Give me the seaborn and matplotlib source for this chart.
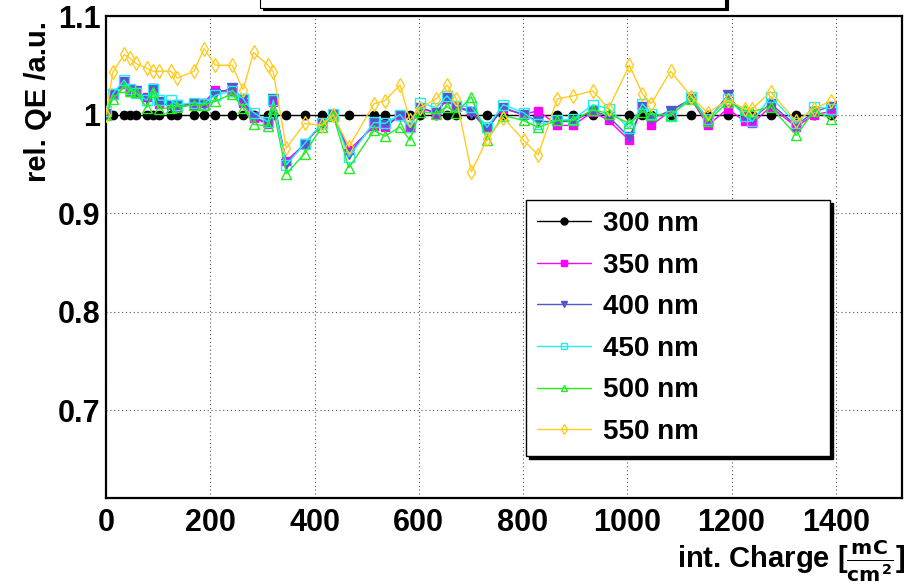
import matplotlib
matplotlib.use("Agg")
import matplotlib.pyplot as plt
from matplotlib.patches import Rectangle
from matplotlib.ticker import FixedLocator, FixedFormatter, MultipleLocator
import seaborn as sns
import pandas as pd

# integrated charge in mC/cm^2
charge = [0, 13, 35, 46, 57, 78, 90, 101, 124, 137, 169, 188, 210, 242, 263, 283,
          311, 321, 346, 381, 414, 436, 466, 514, 535, 564, 583, 602, 634, 654,
          672, 701, 731, 762, 801, 829, 866, 896, 934, 964, 1004, 1029, 1046,
          1083, 1123, 1154, 1193, 1225, 1240, 1275, 1324, 1359, 1390]

qe_300 = [1.0] * len(charge)

qe_350 = [1.002, 1.020, 1.031, 1.023, 1.023, 1.018, 1.027, 1.011, 1.0095, 1.008,
          1.010, 1.012, 1.025, 1.023, 1.012, 0.997, 0.990, 1.013, 0.953, 0.970,
          0.990, 1.000, 0.964, 0.988, 0.987, 0.999, 0.986, 1.007, 1.001, 1.016,
          1.008, 1.004, 0.986, 1.006, 1.000, 1.004, 0.989, 0.989, 1.003, 0.994,
          0.974, 1.008, 0.989, 1.004, 1.0155, 0.989, 1.006, 0.993, 0.991, 1.008,
          0.9875, 1.000, 1.003]

qe_400 = [1.000, 1.021, 1.033, 1.025, 1.024, 1.016, 1.026, 1.013, 1.009, 1.0095,
          1.011, 1.011, 1.021, 1.027, 1.0155, 0.998, 0.991, 1.016, 0.950, 0.9706,
          0.990, 1.000, 0.960, 0.991, 0.989, 0.9986, 0.987, 1.007, 1.002, 1.017,
          1.008, 1.002, 0.985, 1.007, 1.000, 0.993, 0.993, 0.993, 1.004, 0.998,
          0.977, 1.008, 0.996, 1.004, 1.016, 0.994, 1.0196, 0.999, 0.996, 1.011,
          0.989, 1.003, 1.008]

qe_450 = [1.004, 1.021, 1.035, 1.026, 1.022, 1.0145, 1.026, 1.0145, 1.0145, 1.010,
          1.012, 1.011, 1.0196, 1.024, 1.016, 1.002, 0.9925, 1.0145, 0.949, 0.9706,
          0.991, 1.001, 0.957, 0.992, 0.991, 1.000, 0.987, 1.012, 1.007, 1.019,
          1.009, 1.008, 0.987, 1.010, 1.002, 0.990, 0.994, 0.995, 1.010, 1.006,
          0.986, 1.011, 1.001, 0.9986, 1.018, 0.996, 1.016, 0.999, 0.993, 1.018,
          0.991, 1.008, 1.006]

qe_500 = [1.000, 1.016, 1.028, 1.024, 1.023, 1.007, 1.023, 1.006, 1.007, 1.008,
          1.0095, 1.010, 1.0135, 1.021, 1.007, 0.990, 0.9885, 1.006, 0.940, 0.9605,
          0.9875, 0.9986, 0.946, 0.984, 0.978, 0.9875, 0.974, 1.003, 1.001, 1.008,
          1.002, 1.018, 0.974, 0.999, 0.994, 0.987, 0.994, 0.994, 1.005, 1.001,
          0.991, 1.003, 1.000, 1.000, 1.0155, 0.993, 1.013, 1.0044, 1.003, 1.008,
          0.979, 1.004, 0.996]

qe_550 = [1.000, 1.043, 1.061, 1.057, 1.052, 1.047, 1.044, 1.044, 1.044, 1.037,
          1.044, 1.067, 1.050, 1.050, 1.025, 1.063, 1.050, 1.043, 0.966, 0.991,
          0.989, 1.000, 0.967, 1.011, 1.014, 1.030, 0.994, 1.007, 1.016, 1.030,
          1.016, 0.942, 0.975, 0.997, 0.974, 0.959, 1.016, 1.019, 1.024, 1.006,
          1.050, 1.021, 1.011, 1.044, 1.018, 1.002, 1.0145, 1.006, 1.006, 1.023,
          0.993, 1.006, 1.0135]

labels = ["300 nm", "350 nm", "400 nm", "450 nm", "500 nm", "550 nm"]
y_ticks = [0.7, 0.8, 0.9, 1.0, 1.1]
y_ticklabels = ["0.7", "0.8", "0.9", "1", "1.1"]
x_ticks = [0, 200, 400, 600, 800, 1000, 1200, 1400]
x_ticklabels = ["0", "200", "400", "600", "800", "1000", "1200", "1400"]

sns.set_theme(style="white")
plt.rcParams["font.family"] = ["Liberation Sans", "DejaVu Sans"]
plt.rcParams["text.color"] = "black"
plt.rcParams["axes.labelcolor"] = "black"
plt.rcParams["xtick.color"] = "black"
plt.rcParams["ytick.color"] = "black"
plt.rcParams["mathtext.fontset"] = "custom"
plt.rcParams["mathtext.rm"] = "Liberation Sans Narrow:bold"
plt.rcParams["mathtext.it"] = "Liberation Sans Narrow:bold"
plt.rcParams["mathtext.bf"] = "Liberation Sans Narrow:bold"

W, H = 916, 586
fig = plt.figure(figsize=(W / 100, H / 100), dpi=100)
ax = fig.add_axes([106 / W, 1 - 498 / H, 796 / W, 482 / H])

series = [qe_300, qe_350, qe_400, qe_450, qe_500, qe_550]
styles = [
    dict(color="#000000", marker="o", ms=6.0, mfc="#000000", mec="#000000"),
    dict(color="#ff00ff", marker="s", ms=6.0, mfc="#ff00ff", mec="#ff00ff"),
    dict(color="#5555cc", marker="v", ms=6.5, mfc="#5555cc", mec="#5555cc"),
    dict(color="#22eeee", marker="s", ms=7.0, mfc="none", mec="#22eeee"),
    dict(color="#22ee22", marker="^", ms=7.5, mfc="none", mec="#22ee22"),
    dict(color="#ffcc22", marker="d", ms=7.5, mfc="none", mec="#ffcc22"),
]

for i, (vals, lab, st) in enumerate(zip(series, labels, styles)):
    df = pd.DataFrame({"charge": charge, "qe": vals})
    sns.lineplot(data=df, x="charge", y="qe", ax=ax, estimator=None, sort=True,
                 label=lab, linewidth=1.0, mew=1.0, zorder=3 + i, **st)

ax.set_xlim(0, 1527)
ax.set_ylim(0.611, 1.1)

ax.xaxis.set_major_locator(FixedLocator(x_ticks))
ax.xaxis.set_major_formatter(FixedFormatter(x_ticklabels))
ax.xaxis.set_minor_locator(MultipleLocator(50))
ax.yaxis.set_major_locator(FixedLocator(y_ticks))
ax.yaxis.set_major_formatter(FixedFormatter(y_ticklabels))
ax.yaxis.set_minor_locator(MultipleLocator(0.02))

ax.tick_params(axis="both", which="both", direction="in", top=False, right=False,
               color="black", width=1.0)
ax.tick_params(axis="x", which="major", length=12, pad=7)
ax.tick_params(axis="x", which="minor", length=6)
ax.tick_params(axis="y", which="major", length=12, pad=4)
ax.tick_params(axis="y", which="minor", length=9)

for t in ax.get_xticklabels():
    t.set_fontfamily(["Liberation Sans Narrow", "Liberation Sans"])
    t.set_fontweight("bold")
    t.set_fontsize(22)
for t in ax.get_yticklabels():
    t.set_fontweight("bold")
    t.set_fontsize(22)

ax.grid(True, which="major", color="#555555", linestyle=(0, (1, 2.5)), linewidth=0.8)
for s in ax.spines.values():
    s.set_color("black")
    s.set_linewidth(1.6)

ax.set_ylabel("rel. QE /a.u.", fontsize=21, fontweight="bold", loc="top")
ax.yaxis.set_label_coords(-0.068, 0.99)
ax.set_xlabel(r"int. Charge [$\frac{mC}{cm^{2}}$]", fontsize=21, fontweight="bold",
              fontfamily=["Liberation Sans Narrow", "Liberation Sans"], loc="right")
ax.xaxis.set_label_coords(1.004, -0.131)
ax.xaxis.label.set_va("center")

leg = ax.legend(loc="upper left", bbox_to_anchor=(526 / W, 1 - 200 / H, 304 / W, 0.0),
                bbox_transform=fig.transFigure, mode="expand", borderaxespad=0,
                frameon=True, fancybox=False, shadow={"color": "black", "alpha": 1.0},
                numpoints=1, handlelength=1.95, handletextpad=0.43, borderpad=0.4,
                labelspacing=0.56, prop={"weight": "bold", "size": 20})
leg.get_frame().set_edgecolor("black")
leg.get_frame().set_linewidth(1.0)
leg.set_zorder(20)
for h in leg.legend_handles:
    h.set_markersize(5.0)

# title box peeking in above the frame
fig.patches.append(Rectangle((263 / W, 1 - 10 / H), 465 / W, 0.05, transform=fig.transFigure,
                             facecolor="black", edgecolor="black", lw=0.8, zorder=1))
fig.patches.append(Rectangle((260 / W, 1 - 8 / H), 465 / W, 0.05, transform=fig.transFigure,
                             facecolor="white", edgecolor="black", lw=0.8, zorder=2))

fig.savefig("out.png", dpi=100)
